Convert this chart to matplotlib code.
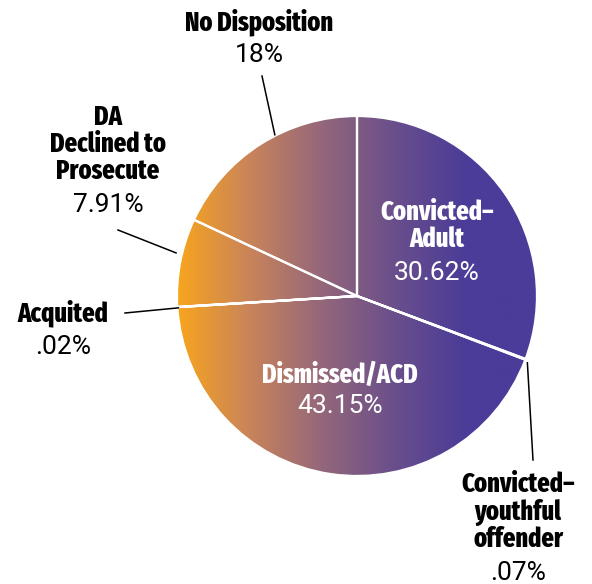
import numpy as np
import matplotlib.pyplot as plt
from matplotlib.colors import LinearSegmentedColormap
from matplotlib.patches import Circle
from matplotlib import font_manager

# Case dispositions, clockwise from 12 o'clock
categories = [
    "Convicted–\nAdult",
    "Convicted–\nyouthful\noffender",
    "Dismissed/ACD",
    "Acquited",
    "DA\nDeclined to\nProsecute",
    "No Disposition",
]
shares = [30.62, 0.07, 43.15, 0.02, 7.91, 18.0]
pct_labels = ["30.62%", ".07%", "43.15%", ".02%", "7.91%", "18%"]

W, H = 592, 584
names = {f.name for f in font_manager.fontManager.ttflist}


def pick(*cands):
    for c in cands:
        if c in names:
            return c
    return "DejaVu Sans"


BOLD = pick("Fira Sans Extra Condensed", "Roboto Condensed", "Barlow Condensed")
PCT = pick("Roboto", "Public Sans")

fig = plt.figure(figsize=(W / 100, H / 100), dpi=100)
ax = fig.add_axes([0, 0, 1, 1])

cx, cy, r = 357, H - 296, 180

# horizontal orange -> purple gradient clipped to the disc
cmap = LinearSegmentedColormap.from_list(
    "op", ["#f8a51d", "#c9845a", "#94677a", "#6b4f8c", "#4b3c98", "#4a3c99"]
)
grad = np.linspace(0, 1, 512).reshape(1, -1)
img = ax.imshow(grad, cmap=cmap, extent=[cx - r, cx + r, cy - r, cy + r],
                aspect="auto", zorder=1)
disc = Circle((cx, cy), r, transform=ax.transData, facecolor="none", edgecolor="none")
ax.add_patch(disc)
img.set_clip_path(disc)

wedges, _ = ax.pie(shares, center=(cx, cy), radius=r, startangle=90,
                   counterclock=False, frame=True,
                   wedgeprops=dict(facecolor="none", edgecolor="white", linewidth=1.6))
for w in wedges:
    w.set_zorder(2)
ax.set_xlim(0, W)
ax.set_ylim(0, H)
ax.set_aspect("equal")
ax.axis("off")

# label layout: (x, name y, pct y, colour) in pixels from the top-left
layout = [
    (437, 226, 273, "white"),
    (518, 512, 573, "black"),
    (340, 375, 406, "white"),
    (63, 313, 347, "black"),
    (108, 144, 205, "black"),
    (259, 22, 55, "black"),
]
for name, pct, (x, ny, py, col) in zip(categories, pct_labels, layout):
    ax.text(x, H - ny, name, ha="center", va="center", color=col,
            family=BOLD, fontweight=800, fontsize=19, linespacing=1.03, zorder=3)
    ax.text(x, H - py, pct, ha="center", va="center", color=col,
            family=PCT, fontsize=19, zorder=3)

# leader lines: (angle on rim, start radius, outer end in pixels)
leaders = [
    (-21.4, 183, (533, 460)),
    (183.8, 179, (125, 313)),
    (166.6, 186, (118, 230)),
    (117.0, 181, (262, 76)),
]
for ang, rad, (ex, ey) in leaders:
    a = np.deg2rad(ang)
    ax.plot([cx + rad * np.cos(a), ex], [cy + rad * np.sin(a), H - ey],
            color="black", lw=1.1, zorder=3)

fig.savefig("out.png", dpi=100, facecolor="white")
